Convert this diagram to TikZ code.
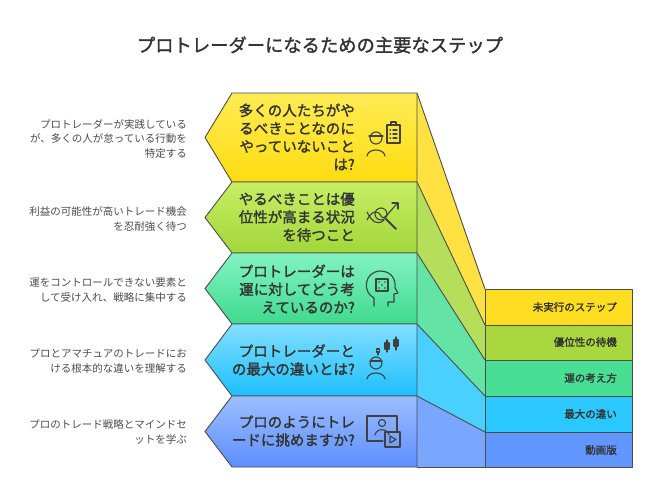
\documentclass[tikz,border=0pt]{standalone}
\usepackage{fontspec}
\setmainfont{Noto Sans CJK JP}
\newfontfamily\jpb{Noto Sans CJK JP}[FakeBold=1.5]
\begin{document}
\begin{tikzpicture}[x=1pt,y=-1pt,
  edge/.style={draw=black!70,line width=0.9pt,line join=round},
  main/.style={font=\jpb\fontsize{14.5}{18}\selectfont,text=black!80,align=right,anchor=east,inner sep=0},
  desc/.style={font=\fontsize{10.5}{14.5}\selectfont,text=black!70,align=right,anchor=east,inner sep=0},
  lab/.style={font=\jpb\fontsize{10.5}{12}\selectfont,text=black!80,anchor=east,inner sep=0},
  ico/.style={draw=black!75,line width=1.1pt,line cap=round,line join=round,fill=none}]
\useasboundingbox (0,0) rectangle (650,503);
\definecolor{yA}{HTML}{FFEC55}\definecolor{yB}{HTML}{FFDC10}\definecolor{yR}{HTML}{FFDD20}
\definecolor{gA}{HTML}{C8EE64}\definecolor{gB}{HTML}{A2D63A}\definecolor{gR}{HTML}{A8D83E}
\definecolor{tA}{HTML}{82F4C4}\definecolor{tB}{HTML}{40D98E}\definecolor{tR}{HTML}{48DE94}
\definecolor{cA}{HTML}{84DFFF}\definecolor{cB}{HTML}{1CBFFF}\definecolor{cR}{HTML}{2AC8FF}
\definecolor{bA}{HTML}{9CBEFF}\definecolor{bB}{HTML}{5C8EFF}\definecolor{bR}{HTML}{6196FF}
\node[font=\jpb\fontsize{18.3}{20}\selectfont,text=black!80] (title) at (320,45) {プロトレーダーになるための主要なステップ};
\def\L{417}\def\R{485}
\foreach \ta/\ba/\tb/\bb/\c in {93/182/289/325/yR,182/253/325/360/gR,253/324/360/396/tR,324/396/396/432/cR,396/467/432/467/bR}{
  \fill[\c!85!white] (\L,\ta) -- (\R,\tb) -- (\R,\bb) -- (\L,\ba) -- cycle;
  \draw[edge] (\L,\ta) -- (\R,\tb);
}
\draw[edge] (\L,467) -- (\R,467);
\foreach \t/\b/\ca/\cb in {93/182/yA/yB,182/253/gA/gB,253/324/tA/tB,324/396/cA/cB,396/467/bA/bB}{
  \shade[top color=\ca,bottom color=\cb,edge] (232,\t) -- (\L,\t) -- (\L,\b) -- (232,\b) -- (205,{(\t+\b)/2}) -- cycle;
}
\foreach \t/\b/\c in {289/325/yR,325/360/gR,360/396/tR,396/432/cR,432/467/bR}{
  \fill[\c,edge] (\R,\t) rectangle (632,\b);
}
\draw[edge] (\R,289) -- (\R,467);
\node[lab] (r1) at (617,307) {未実行のステップ};
\node[lab] (r2) at (617,342) {優位性の待機};
\node[lab] (r3) at (617,378) {運の考え方};
\node[lab] (r4) at (617,414) {最大の違い};
\node[lab] (r5) at (617,450) {動画版};
\node[main] (m1) at (355,137) {多くの人たちがや\\るべきことなのに\\やっていないこと\\は?};
\node[main] (m2) at (355,217) {やるべきことは優\\位性が高まる状況\\を待つこと};
\node[main] (m3) at (355,289) {プロトレーダーは\\運に対してどう考\\えているのか?};
\node[main] (m4) at (355,360) {プロトレーダーと\\の最大の違いとは?};
\node[main] (m5) at (355,431) {プロのようにトレ\\ードに挑めますか?};
\node[desc] (d1) at (187,139) {プロトレーダーが実践している\\が、多くの人が怠っている行動を\\特定する};
\node[desc] (d2) at (187,219) {利益の可能性が高いトレード機会\\を忍耐強く待つ};
\node[desc] (d3) at (187,290) {運をコントロールできない要素と\\して受け入れ、戦略に集中する};
\node[desc] (d4) at (187,361) {プロとアマチュアのトレードにお\\ける根本的な違いを理解する};
\node[desc] (d5) at (187,432) {プロのトレード戦略とマインドセ\\ットを学ぶ};
\draw[ico] (376,138) circle (6);
\draw[ico] (369,136) -- (383,136);
\draw[ico] (367,156) .. controls (368,148) and (384,148) .. (385,156);
\draw[ico] (387,125) rectangle (400,143);
\draw[ico] (391,125) -- (391,122) -- (396,122) -- (396,125);
\foreach \yy in {130,134,138}{\draw[ico] (390,\yy) -- (390.5,\yy) (393,\yy) -- (397,\yy);}
\draw[ico] (367,220) .. controls (372,210) and (378,210) .. (381,216) .. controls (384,222) and (390,210) .. (398,203);
\draw[ico] (392,203) -- (398,203) -- (398,209);
\draw[ico] (367,212) .. controls (372,222) and (378,226) .. (384,220);
\draw[ico] (381,214) circle (6);
\draw[ico,line width=2pt] (386,219) -- (396,229);
\draw[ico] (374,306) -- (374,298) .. controls (362,292) and (364,272) .. (380,271) .. controls (392,271) and (396,280) .. (395,288) -- (398,293) -- (394,294) -- (394,302) -- (388,302) -- (388,306);
\draw[ico] (376,279) rectangle (388,291);
\foreach \p in {(379,282),(385,282),(382,285),(379,288),(385,288)}{\fill[black!75] \p circle (0.9);}
\draw[ico] (376,363) circle (6);
\draw[ico] (370,361) -- (382,361);
\draw[ico] (367,379) .. controls (368,371) and (384,371) .. (385,379);
\draw[ico] (378,355) -- (378,352);\draw[ico] (376.5,352) rectangle (379.5,349);
\draw[ico] (387,352) -- (387,340);\draw[ico] (385,349) rectangle (389,343);
\draw[ico] (396,350) -- (396,337);\draw[ico] (394,346) rectangle (398,340);
\draw[ico] (383,441) -- (367,441) -- (367,416) -- (397,416) -- (397,431);
\draw[ico] (382,423) circle (3.5);
\draw[ico] (375,435) .. controls (376,428) and (388,428) .. (389,435);
\draw[ico] (385,432) rectangle (400,447);
\draw[ico] (390,436) -- (396,439.5) -- (390,443) -- cycle;
\end{tikzpicture}
\end{document}
